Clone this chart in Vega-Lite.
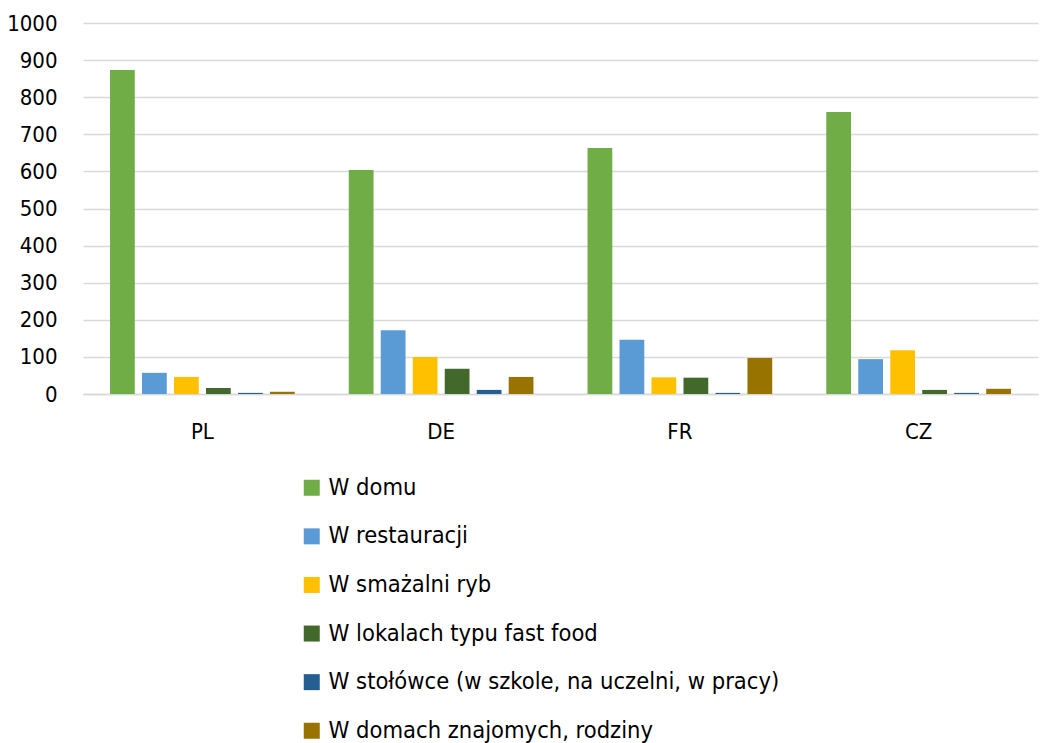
{
  "$schema": "https://vega.github.io/schema/vega-lite/v6.json",
  "autosize": "none",
  "padding": {"left": 83, "top": 23, "right": 2, "bottom": 349},
  "width": 955,
  "height": 371,
  "background": "white",
  "config": {
    "font": "DejaVu Sans Condensed, Liberation Sans Narrow, sans-serif",
    "view": {"stroke": null}
  },
  "data": {
    "values": [
      {"kraj": "PL", "miejsce": "W domu", "v": 873},
      {"kraj": "PL", "miejsce": "W restauracji", "v": 57},
      {"kraj": "PL", "miejsce": "W smażalni ryb", "v": 46},
      {"kraj": "PL", "miejsce": "W lokalach typu fast food", "v": 16},
      {"kraj": "PL", "miejsce": "W stołówce (w szkole, na uczelni, w pracy)", "v": 3},
      {"kraj": "PL", "miejsce": "W domach znajomych, rodziny", "v": 6},
      {"kraj": "DE", "miejsce": "W domu", "v": 604},
      {"kraj": "DE", "miejsce": "W restauracji", "v": 172},
      {"kraj": "DE", "miejsce": "W smażalni ryb", "v": 100},
      {"kraj": "DE", "miejsce": "W lokalach typu fast food", "v": 68},
      {"kraj": "DE", "miejsce": "W stołówce (w szkole, na uczelni, w pracy)", "v": 11},
      {"kraj": "DE", "miejsce": "W domach znajomych, rodziny", "v": 46},
      {"kraj": "FR", "miejsce": "W domu", "v": 663},
      {"kraj": "FR", "miejsce": "W restauracji", "v": 146},
      {"kraj": "FR", "miejsce": "W smażalni ryb", "v": 45},
      {"kraj": "FR", "miejsce": "W lokalach typu fast food", "v": 44},
      {"kraj": "FR", "miejsce": "W stołówce (w szkole, na uczelni, w pracy)", "v": 3},
      {"kraj": "FR", "miejsce": "W domach znajomych, rodziny", "v": 97},
      {"kraj": "CZ", "miejsce": "W domu", "v": 760},
      {"kraj": "CZ", "miejsce": "W restauracji", "v": 94},
      {"kraj": "CZ", "miejsce": "W smażalni ryb", "v": 118},
      {"kraj": "CZ", "miejsce": "W lokalach typu fast food", "v": 11},
      {"kraj": "CZ", "miejsce": "W stołówce (w szkole, na uczelni, w pracy)", "v": 3},
      {"kraj": "CZ", "miejsce": "W domach znajomych, rodziny", "v": 14}
    ]
  },
  "mark": {"type": "bar"},
  "encoding": {
    "x": {
      "field": "kraj", "type": "nominal", "sort": ["PL", "DE", "FR", "CZ"],
      "scale": {"paddingInner": 0, "paddingOuter": 0},
      "axis": {"title": null, "labelAngle": 0, "ticks": false, "domainColor": "#D9D9D9", "domainWidth": 1.5,
               "labelFontSize": 22, "labelColor": "#000000", "labelPadding": 27}
    },
    "xOffset": {
      "field": "miejsce", "type": "nominal",
      "sort": ["W domu", "W restauracji", "W smażalni ryb", "W lokalach typu fast food", "W stołówce (w szkole, na uczelni, w pracy)", "W domach znajomych, rodziny"],
      "scale": {"paddingInner": 0.226, "paddingOuter": 0.845}
    },
    "y": {
      "field": "v", "type": "quantitative",
      "scale": {"domain": [0, 1000], "nice": false},
      "axis": {"title": null, "values": [0,100,200,300,400,500,600,700,800,900,1000], "format": "d",
               "labelOverlap": false, "labelBound": false,
               "ticks": false, "domain": false, "gridColor": "#D9D9D9", "gridWidth": 1.5,
               "labelFontSize": 22, "labelColor": "#000000", "labelPadding": 26}
    },
    "color": {
      "field": "miejsce", "type": "nominal",
      "sort": ["W domu", "W restauracji", "W smażalni ryb", "W lokalach typu fast food", "W stołówce (w szkole, na uczelni, w pracy)", "W domach znajomych, rodziny"],
      "scale": {
        "domain": ["W domu", "W restauracji", "W smażalni ryb", "W lokalach typu fast food", "W stołówce (w szkole, na uczelni, w pracy)", "W domach znajomych, rodziny"],
        "range": ["#70AD47", "#5B9BD5", "#FFC000", "#43682B", "#255E91", "#997300"]
      },
      "legend": {
        "title": null, "orient": "none", "legendX": 217, "legendY": 453,
        "symbolType": "square", "symbolSize": 256, "symbolStrokeWidth": 0,
        "labelFontSize": 23.5, "labelColor": "#000000", "labelOffset": 5,
        "rowPadding": 23.6, "labelLimit": 600
      }
    }
  }
}
